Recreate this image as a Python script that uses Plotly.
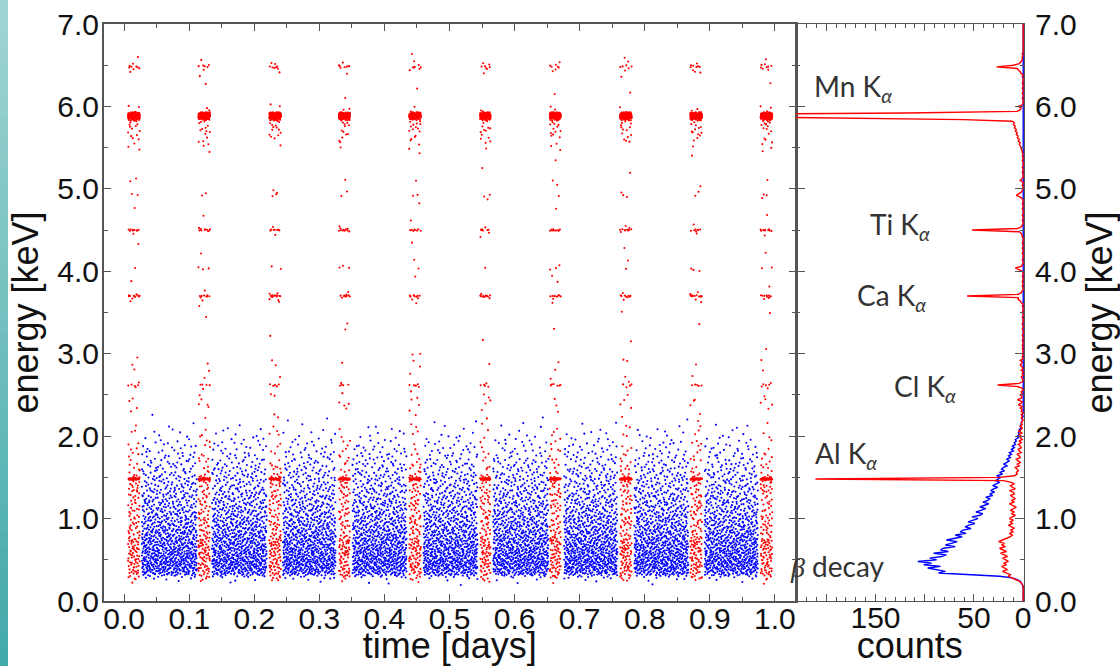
import plotly.graph_objects as go
from bisect import bisect_left

# ---------------- data ----------------
# calibration (red) windows and background (blue) runs, in days
cal_start = [0.006, 0.114, 0.223, 0.330, 0.438, 0.547, 0.654, 0.762, 0.870, 0.978]
cal_end   = [0.024, 0.132, 0.241, 0.347, 0.456, 0.563, 0.671, 0.780, 0.888, 0.996]
bkg_start = [0.027, 0.135, 0.244, 0.351, 0.460, 0.567, 0.676, 0.784, 0.892]
bkg_end   = [0.112, 0.219, 0.325, 0.434, 0.543, 0.652, 0.758, 0.867, 0.974]

# spectrum energy bins (keV), 0.02 keV wide, 0.00 .. 7.00
energy = [round(0.02 * k, 2) for k in range(351)]

# red (calibration) spectrum counts, one row per 0.5 keV
red_counts = [
    0, 0, 0, 0, 0, 0, 0, 0, 0, 0, 1, 2, 4, 8, 12, 15, 13, 18, 21, 16, 19, 22, 17, 20, 15,
    18, 21, 16, 19, 23, 17, 20, 24, 18, 22, 19, 25, 21, 16, 13, 11, 14, 10, 13, 9, 12, 15, 11, 13, 10,
    14, 11, 8, 12, 9, 13, 10, 7, 11, 14, 9, 12, 8, 11, 13, 9, 10, 14, 8, 11, 13, 9, 12, 20, 211,
    24, 9, 6, 7, 5, 6, 8, 4, 6, 3, 5, 7, 3, 4, 6, 2, 4, 5, 2, 3, 5, 2, 4, 1, 3,
    2, 4, 1, 5, 2, 1, 3, 1, 2, 1, 0, 2, 1, 2, 0, 2, 1, 3, 1, 5, 2, 1, 6, 2, 1,
    3, 1, 2, 0, 1, 5, 26, 4, 1, 0, 1, 2, 0, 1, 0, 2, 0, 1, 3, 2, 1, 3, 0, 1, 0,
    1, 0, 0, 1, 0, 1, 0, 0, 1, 0, 0, 1, 0, 0, 0, 1, 0, 0, 1, 0, 0, 0, 1, 0, 0,
    1, 0, 0, 0, 1, 0, 2, 3, 5, 5, 57, 5, 2, 1, 0, 0, 1, 0, 0, 1, 0, 0, 1, 0, 0,
    1, 4, 8, 2, 1, 0, 0, 1, 0, 0, 0, 1, 0, 0, 1, 0, 0, 1, 0, 0, 0, 1, 1, 2, 4,
    52, 5, 2, 1, 0, 0, 1, 0, 0, 1, 0, 0, 0, 1, 0, 0, 1, 0, 0, 1, 3, 7, 4, 2, 1,
    0, 0, 1, 0, 0, 3, 1, 0, 0, 0, 1, 0, 0, 1, 0, 0, 0, 1, 0, 0, 1, 0, 1, 1, 2,
    2, 3, 4, 3, 5, 4, 6, 5, 7, 6, 8, 7, 9, 8, 10, 9, 11, 60, 180, 330, 370, 120, 6, 3, 2,
    5, 1, 0, 0, 0, 1, 0, 0, 1, 0, 0, 1, 0, 0, 1, 0, 0, 0, 1, 0, 2, 3, 5, 6, 27,
    10, 4, 2, 1, 1, 1, 0, 1, 0, 0, 0, 0, 0, 0, 0, 0, 0, 0, 0, 0, 0, 0, 0, 0, 0,
    0,
]

# blue (background) spectrum counts, one row per 0.5 keV
blue_counts = [
    0, 0, 0, 0, 0, 0, 0, 0, 0, 0, 1, 2, 3, 6, 11, 24, 61, 86, 79, 90, 97, 84, 101, 93, 107,
    88, 95, 83, 78, 91, 76, 84, 81, 69, 79, 73, 67, 78, 70, 62, 69, 58, 64, 61, 53, 59, 55, 49, 56, 50,
    46, 52, 44, 41, 48, 43, 38, 44, 40, 35, 41, 36, 34, 38, 31, 34, 29, 33, 30, 26, 31, 27, 24, 28, 25,
    23, 27, 21, 24, 19, 22, 20, 16, 20, 17, 14, 17, 13, 15, 12, 14, 10, 12, 9, 11, 8, 9, 7, 8, 5,
    6, 4, 5, 3, 4, 2, 3, 2, 2, 1, 1, 1, 0, 1, 0, 0, 0, 0, 0, 0, 0, 0, 0, 0, 0,
    0, 0, 0, 0, 0, 0, 0, 0, 0, 0, 0, 0, 0, 0, 0, 0, 0, 0, 0, 0, 0, 0, 0, 0, 0,
    0, 0, 0, 0, 0, 0, 0, 0, 0, 0, 0, 0, 0, 0, 0, 0, 0, 0, 0, 0, 0, 0, 0, 0, 0,
    0, 0, 0, 0, 0, 0, 0, 0, 0, 0, 0, 0, 0, 0, 0, 0, 0, 0, 0, 0, 0, 0, 0, 0, 0,
    0, 0, 0, 0, 0, 0, 0, 0, 0, 0, 0, 0, 0, 0, 0, 0, 0, 0, 0, 0, 0, 0, 0, 0, 0,
    0, 0, 0, 0, 0, 0, 0, 0, 0, 0, 0, 0, 0, 0, 0, 0, 0, 0, 0, 0, 0, 0, 0, 0, 0,
    0, 0, 0, 0, 0, 0, 0, 0, 0, 0, 0, 0, 0, 0, 0, 0, 0, 0, 0, 0, 0, 0, 0, 0, 0,
    0, 0, 0, 0, 0, 0, 0, 0, 0, 0, 0, 0, 0, 0, 0, 0, 0, 0, 0, 0, 0, 0, 0, 0, 0,
    0, 0, 0, 0, 0, 0, 0, 0, 0, 0, 0, 0, 0, 0, 0, 0, 0, 0, 0, 0, 0, 0, 0, 0, 0,
    0, 0, 0, 0, 0, 0, 0, 0, 0, 0, 0, 0, 0, 0, 0, 0, 0, 0, 0, 0, 0, 0, 0, 0, 0,
    0,
]

# events per displayed spectrum count (scatter density)
blue_events_per_count = 2.0
red_events_per_count = 1.4

line_labels = ["Mn K<sub><i>α</i></sub>", "Ti K<sub><i>α</i></sub>", "Ca K<sub><i>α</i></sub>",
               "Cl K<sub><i>α</i></sub>", "Al K<sub><i>α</i></sub>",
               "<span style='font-family:Liberation Serif'><i>β</i></span> decay"]
label_counts = [214, 158, 171, 133, 213, 239]
label_energy = [6.22, 4.55, 3.69, 2.59, 1.77, 0.42]


# ---------------- spread the binned events over the run windows ----------------
def halton(i, b):
    f, r = 1.0, 0.0
    while i > 0:
        f /= b
        r += f * (i % b)
        i //= b
    return r


def events_from_spectrum(counts, scale, starts, ends, offset):
    total_t = sum(e - s for s, e in zip(starts, ends))
    cum = []
    acc = 0.0
    for c in counts:
        acc += c
        cum.append(acc)
    n = int(round(acc * scale))
    ts, es = [], []
    for i in range(1, n + 1):
        u = halton(i + offset, 2)
        w = halton(i + offset, 3) * acc
        k = bisect_left(cum, w)
        k = min(k, len(counts) - 1)
        lo = cum[k] - counts[k]
        frac = (w - lo) / counts[k] if counts[k] else 0.5
        pos = u * total_t
        t = starts[-1]
        for s, e in zip(starts, ends):
            wd = e - s
            if pos <= wd:
                t = s + pos
                break
            pos -= wd
        ts.append(t)
        es.append(energy[k] - 0.01 + 0.02 * frac)
    return ts, es


bt, be = events_from_spectrum(blue_counts, blue_events_per_count, bkg_start, bkg_end, 17)
rt, re_ = events_from_spectrum(red_counts, red_events_per_count, cal_start, cal_end, 9001)

fig = go.Figure()
fig.add_trace(go.Scatter(x=bt, y=be, mode="markers", xaxis="x", yaxis="y",
                         marker=dict(color="#0000ff", size=2.1, line=dict(width=0)),
                         showlegend=False, hoverinfo="skip"))
fig.add_trace(go.Scatter(x=rt, y=re_, mode="markers", xaxis="x", yaxis="y",
                         marker=dict(color="#ff0000", size=2.1, line=dict(width=0)),
                         showlegend=False, hoverinfo="skip"))
fig.add_trace(go.Scatter(x=blue_counts, y=energy, mode="lines", xaxis="x2", yaxis="y2",
                         line=dict(color="#0000ff", width=1.4), showlegend=False))
fig.add_trace(go.Scatter(x=red_counts, y=energy, mode="lines", xaxis="x2", yaxis="y2",
                         line=dict(color="#ff0000", width=1.4), showlegend=False))

FONT = "Liberation Sans, Arial, sans-serif"
AX = "#555555"
TF = 30
split = (795.7 - 104) / 920

fig.update_layout(
    width=1120, height=666,
    margin=dict(l=104, r=96, t=24, b=65, autoexpand=False),
    paper_bgcolor="white", plot_bgcolor="white",
    font=dict(family=FONT, size=TF, color="#111111"),
    xaxis=dict(domain=[0, split], range=[-0.031, 1.032], tickmode="linear", tick0=0, dtick=0.1,
               tickformat=".1f", ticks="inside", ticklen=7, tickwidth=1.3, tickcolor=AX,
               minor=dict(tickmode="linear", tick0=0.05, dtick=0.1, ticks="inside", ticklen=4,
                          tickcolor=AX, tickwidth=1.3),
               showline=True, linecolor=AX, linewidth=2, mirror="ticks", showgrid=False,
               zeroline=False, title=dict(text="time [days]", standoff=5),
               ticklabelstandoff=-10, automargin=False,
               tickfont=dict(size=TF), anchor="y"),
    yaxis=dict(domain=[0, 1], range=[0, 7], tickmode="linear", tick0=0, dtick=1, tickformat=".1f",
               ticks="inside", ticklen=7, tickwidth=1.3, tickcolor=AX,
               minor=dict(tickmode="linear", tick0=0.5, dtick=1, ticks="inside", ticklen=4,
                          tickcolor=AX, tickwidth=1.3),
               showline=True, linecolor=AX, linewidth=2, mirror="ticks", showgrid=False,
               zeroline=False, title=dict(text="energy [keV]", standoff=8),
               ticklabelstandoff=-3, automargin=False,
               tickfont=dict(size=TF), anchor="x"),
    xaxis2=dict(domain=[split, 1], range=[231, -0.8], tickmode="array",
                tickvals=[0, 50, 100, 150, 200], ticktext=["0", "50", "", "150", ""],
                ticks="inside", ticklen=7, tickwidth=1.2, tickcolor=AX,
                minor=dict(tickmode="linear", tick0=0, dtick=10, ticks="inside", ticklen=4,
                           tickcolor=AX, tickwidth=1.2),
                showline=True, linecolor=AX, linewidth=1.3, mirror="ticks", showgrid=False,
                zeroline=False, title=dict(text="counts", standoff=5),
                ticklabelstandoff=-10, automargin=False,
                tickfont=dict(size=TF), anchor="y2"),
    yaxis2=dict(domain=[0, 1], range=[0, 7], tickmode="linear", tick0=0, dtick=1, tickformat=".1f",
                side="right", ticks="inside", ticklen=9, tickwidth=1.3, tickcolor=AX,
                minor=dict(tickmode="linear", tick0=0.5, dtick=1, ticks="inside", ticklen=4,
                           tickcolor=AX, tickwidth=1.3),
                showline=True, linecolor=AX, linewidth=1, mirror="ticks", showgrid=False,
                zeroline=False, title=dict(text="energy [keV]", standoff=14),
                ticklabelstandoff=4, automargin=False,
                tickfont=dict(size=TF), anchor="x2"),
)

# teal gradient strip at the left edge
n_strips = 40
for i in range(n_strips):
    f = i / (n_strips - 1)
    r = int(round(0x9f + (0x42 - 0x9f) * f))
    g = int(round(0xd4 + (0xaa - 0xd4) * f))
    b = int(round(0xd3 + (0xa9 - 0xd3) * f))
    fig.add_shape(type="rect", xref="paper", yref="paper",
                  x0=-104 / 920, x1=-96 / 920,
                  y0=(601 - 666 * (i + 1) / n_strips) / 577 - 0.001,
                  y1=(601 - 666 * i / n_strips) / 577 + 0.001,
                  fillcolor=f"rgb({r},{g},{b})", line=dict(width=0), layer="below")

for txt, c, e in zip(line_labels, label_counts, label_energy):
    fig.add_annotation(x=(1024 - 0.989 * c - 104) / 920, y=e / 7, xref="paper", yref="paper",
                       text=txt, showarrow=False, xanchor="left", yanchor="middle",
                       font=dict(family="Lato, Open Sans, sans-serif", size=28, color="#333333"))

fig.write_html("out.html", config={"displayModeBar": False},
               post_script="document.body.style.margin='0px';")
